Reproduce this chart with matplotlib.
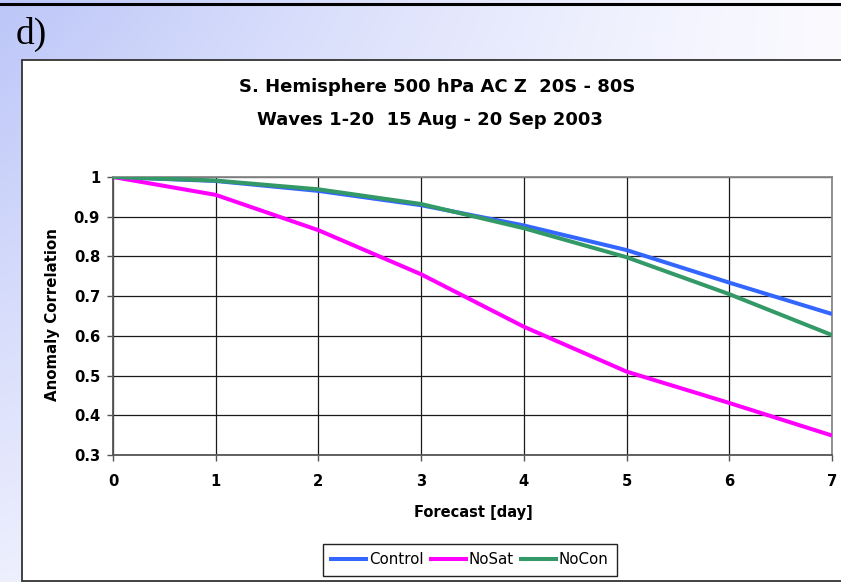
import numpy as np
import matplotlib
matplotlib.use("Agg")
import matplotlib.pyplot as plt
from matplotlib.patches import Rectangle
from matplotlib.lines import Line2D

# ---- data ----
days = [0, 1, 2, 3, 4, 5, 6, 7]
control = [1.0, 0.990, 0.965, 0.929, 0.878, 0.816, 0.734, 0.655]
nosat = [1.0, 0.955, 0.866, 0.755, 0.623, 0.510, 0.431, 0.349]
nocon = [1.0, 0.991, 0.969, 0.932, 0.871, 0.798, 0.705, 0.602]
series_names = ["Control", "NoSat", "NoCon"]
series_colors = ["#3366FF", "#FF00FF", "#339966"]
yticks = [0.3, 0.4, 0.5, 0.6, 0.7, 0.8, 0.9, 1.0]
ytick_labels = ["0.3", "0.4", "0.5", "0.6", "0.7", "0.8", "0.9", "1"]
title1 = "S. Hemisphere 500 hPa AC Z  20S - 80S"
title2 = "Waves 1-20  15 Aug - 20 Sep 2003"

W, H = 841, 582
fig = plt.figure(figsize=(W / 100, H / 100), dpi=100)

def fx(px):
    return px / W

def fy(py):
    return 1 - py / H

# background gradient
bg = fig.add_axes([0, 0, 1, 1], zorder=-10)
xx = np.linspace(0, 1, W)
yy = np.linspace(0, 1, H)
X, Y = np.meshgrid(xx, yy)
t = 1 - (1 - X) ** 1.3 * (1 - 0.8 * Y)
c0 = np.array([188, 198, 248]) / 255
c1 = np.array([250, 250, 255]) / 255
img = c0[None, None, :] * (1 - t[..., None]) + c1[None, None, :] * t[..., None]
bg.imshow(img, aspect="auto", extent=[0, 1, 0, 1], origin="upper")
bg.set_xlim(0, 1)
bg.set_ylim(0, 1)
bg.axis("off")

# top black line
fig.add_artist(Line2D([0, 1], [fy(4), fy(4)], color="black", lw=2.2, transform=fig.transFigure))

# chart white box
fig.add_artist(Rectangle((fx(22), fy(581)), fx(841 - 22 + 10), (581 - 60) / H,
                         transform=fig.transFigure, facecolor="white",
                         edgecolor="#333333", lw=1.3, zorder=-5))

fig.text(fx(16), fy(44), "d)", family="Liberation Serif", fontsize=27,
         ha="left", va="baseline")

# main axes
ax = fig.add_axes([fx(113), fy(455), fx(832 - 113), (455 - 177) / H])
ax.set_facecolor("white")
for vals, name, col in zip([control, nosat, nocon], series_names, series_colors):
    ax.plot(days, vals, color=col, lw=2.9, label=name, solid_joinstyle="round",
            solid_capstyle="butt", zorder=3)

ax.set_xlim(0, 7)
ax.set_ylim(0.3, 1.0)
ax.set_xticks(days)
ax.set_xticklabels([str(d) for d in days])
ax.set_yticks(yticks)
ax.set_yticklabels(ytick_labels)
ax.grid(True, color="#1a1a1a", lw=0.9, zorder=1)
ax.set_axisbelow(True)
for s in ["left", "bottom"]:
    ax.spines[s].set_color("#555555")
    ax.spines[s].set_linewidth(1.3)
for s in ["top", "right"]:
    ax.spines[s].set_color("#888888")
    ax.spines[s].set_linewidth(1.3)
ax.tick_params(axis="both", direction="out", length=4.3, width=1.0, color="#555555",
               labelsize=10.6)
ax.tick_params(axis="x", pad=9.5)
ax.tick_params(axis="y", pad=5)
for lab in ax.get_xticklabels() + ax.get_yticklabels():
    lab.set_fontweight("bold")

fig.text(fx(437), fy(87), title1, ha="center", va="center", fontsize=13, fontweight="bold")
fig.text(fx(430), fy(120), title2, ha="center", va="center", fontsize=13, fontweight="bold")
fig.text(fx(52.5), fy(315), "Anomaly Correlation", rotation=90, ha="center", va="center",
         fontsize=10.8, fontweight="bold")
fig.text(fx(473), fy(512), "Forecast [day]", ha="center", va="center",
         fontsize=10.5, fontweight="bold")

handles = [Line2D([], [], color=c, lw=2.9) for c in series_colors]
leg = fig.legend(handles, series_names, loc="center", bbox_to_anchor=(fx(470), fy(560)),
                 ncol=3, fontsize=10.8, frameon=True, fancybox=False, framealpha=1,
                 edgecolor="#222222", handlelength=2.3, handletextpad=0.2,
                 columnspacing=0.5, borderpad=0.55, borderaxespad=0)
leg.get_frame().set_linewidth(1.0)

fig.savefig("out.png", dpi=100)
